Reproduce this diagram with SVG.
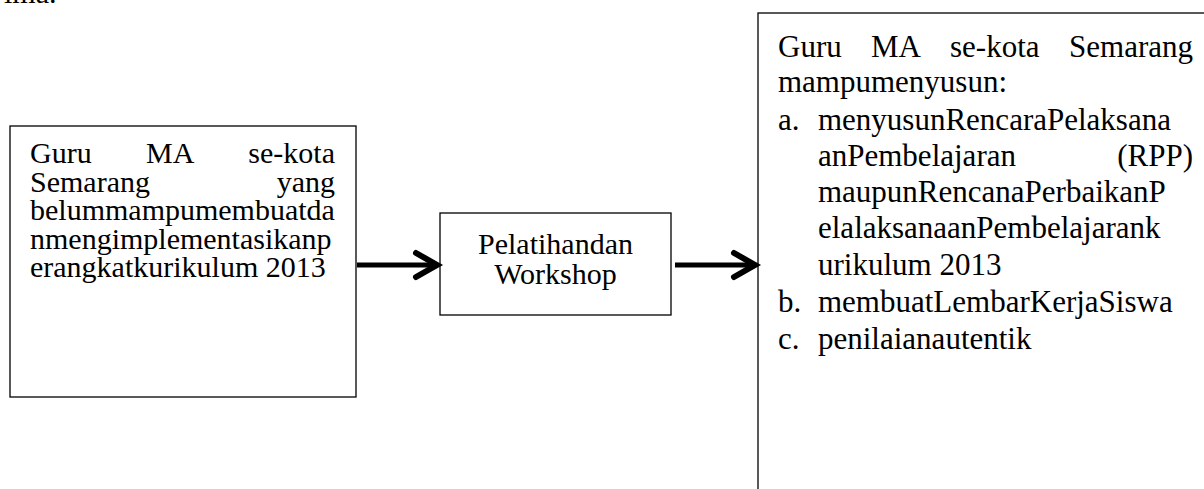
<svg xmlns="http://www.w3.org/2000/svg" width="1204" height="489" viewBox="0 0 1204 489">
<style>
  text { font-family: "Liberation Serif", "Times New Roman", serif; fill: #000; }
  .l { font-size: 30px; }
  .m { font-size: 30px; }
  .r { font-size: 31px; }
  .box { fill: #fff; stroke: #000; stroke-width: 1.3; }
  .shaft { stroke: #000; stroke-width: 5; fill: none; }
  .head { stroke: #000; stroke-width: 6; fill: none; stroke-linecap: round; stroke-linejoin: miter; }
</style>
<rect width="1204" height="489" fill="#fff"/>
<text class="l" x="4" y="3">ima.</text>
<g id="node-left">
  <rect class="box" x="10" y="126" width="346" height="271"/>
  <text class="l" x="30" y="163">Guru</text>
  <text class="l" x="146" y="163">MA</text>
  <text class="l" x="335" y="163" text-anchor="end">se-kota</text>
  <text class="l" x="30" y="191.5">Semarang</text>
  <text class="l" x="335" y="191.5" text-anchor="end">yang</text>
  <text class="l" x="30" y="220">belummampumembuatda</text>
  <text class="l" x="30" y="248.5">nmengimplementasikanp</text>
  <text class="l" x="30" y="277">erangkatkurikulum 2013</text>
</g>
<g id="node-middle">
  <rect class="box" x="440" y="213" width="231" height="102"/>
  <text class="m" x="555.5" y="254" text-anchor="middle">Pelatihandan</text>
  <text class="m" x="555.5" y="284" text-anchor="middle">Workshop</text>
</g>
<g id="node-right">
  <rect class="box" x="758" y="13" width="470" height="500"/>
  <text class="r" x="778" y="57">Guru</text>
  <text class="r" x="871" y="57">MA</text>
  <text class="r" x="950" y="57">se-kota</text>
  <text class="r" x="1193" y="57" text-anchor="end">Semarang</text>
  <text class="r" x="778" y="92">mampumenyusun:</text>
  <text class="r" x="778" y="130">a.</text>
  <text class="r" x="818" y="130">menyusunRencaraPelaksana</text>
  <text class="r" x="818" y="166">anPembelajaran</text>
  <text class="r" x="1193" y="166" text-anchor="end">(RPP)</text>
  <text class="r" x="818" y="202">maupunRencanaPerbaikanP</text>
  <text class="r" x="818" y="238">elalaksanaanPembelajarank</text>
  <text class="r" x="818" y="275">urikulum 2013</text>
  <text class="r" x="778" y="312">b.</text>
  <text class="r" x="818" y="312">membuatLembarKerjaSiswa</text>
  <text class="r" x="778" y="349">c.</text>
  <text class="r" x="818" y="349">penilaianautentik</text>
</g>
<g id="connectors">
  <line class="shaft" x1="357" y1="265" x2="436" y2="265"/>
  <polyline class="head" points="416,253 437,265 416,277"/>
  <line class="shaft" x1="675" y1="265" x2="754" y2="265"/>
  <polyline class="head" points="734,253 755,265 734,277"/>
</g>
</svg>
